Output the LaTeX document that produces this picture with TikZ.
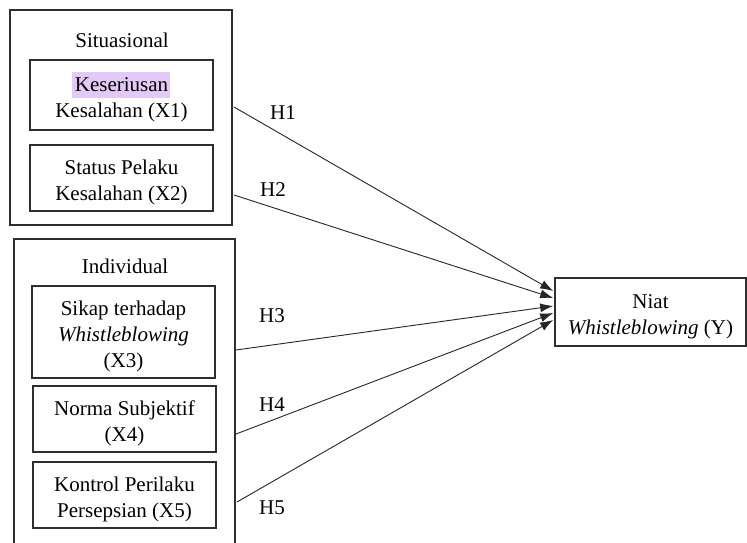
\documentclass[tikz,border=0pt]{standalone}
\usepackage{fontspec}
\setmainfont{Liberation Serif}
\usetikzlibrary{arrows.meta,calc}
\definecolor{hl}{HTML}{E2C9F7}
\definecolor{ln}{HTML}{2E2E2E}
\newcommand{\topstrut}{\rule{0pt}{23pt}}
\begin{document}
\begin{tikzpicture}[x=1pt,y=-1pt,
  every node/.style={font=\fontsize{21}{26}\selectfont, text=black},
  outerbox/.style={draw=ln, line width=1.6pt, minimum width=#1, inner sep=0pt},
  varbox/.style={draw=ln, line width=1.6pt, align=center, inner sep=0pt},
  conn/.style={draw=black!85, line width=0.9pt, -{Latex[length=13pt,width=9pt]}},
  hlabel/.style={inner sep=0pt}
]
\clip (0,0) rectangle (747,543);
\fill[white] (0,0) rectangle (747,543);
% outer groups
\node[outerbox=222pt, minimum height=215pt] (sit) at (121,117.5) {};
\node[outerbox=221pt, minimum height=330pt] (ind) at (124.5,404) {};
\node[inner sep=0pt] (tsit) at (122,40) {Situasional};
\node[inner sep=0pt] (tind) at (125,266) {Individual};
% highlight
\fill[hl] (72,72) rectangle (170,98);
% variable boxes
\node[varbox, minimum width=183pt, minimum height=70pt] (x1) at (121.5,95)
  {\topstrut Keseriusan\\Kesalahan (X1)};
\node[varbox, minimum width=183pt, minimum height=66pt] (x2) at (121.5,178)
  {\topstrut Status Pelaku\\Kesalahan (X2)};
\node[varbox, minimum width=183pt, minimum height=92pt] (x3) at (123.5,332)
  {\topstrut Sikap terhadap\\\textit{Whistleblowing}\\(X3)};
\node[varbox, minimum width=183pt, minimum height=66pt] (x4) at (124.5,419)
  {\topstrut Norma Subjektif\\(X4)};
\node[varbox, minimum width=183pt, minimum height=66pt] (x5) at (124.5,495)
  {\topstrut Kontrol Perilaku\\Persepsian (X5)};
\node[varbox, minimum width=191pt, minimum height=68pt] (y) at (650.5,312)
  {\topstrut Niat\\\textit{Whistleblowing} (Y)};
% connector start points on the group borders
\coordinate (s1) at (234,107);
\coordinate (s2) at (234,195);
\coordinate (s3) at (236,350);
\coordinate (s4) at (236,434);
\coordinate (s5) at (237,502);
\draw[conn] (s1) -- ($(y.west)+(-1,-21)$);
\draw[conn] (s2) -- ($(y.west)+(-1,-14)$);
\draw[conn] (s3) -- ($(y.west)+(-1,-6)$);
\draw[conn] (s4) -- ($(y.west)+(-1,1)$);
\draw[conn] (s5) -- ($(y.west)+(-1,8)$);
% hypothesis labels
\node[hlabel] (h1) at (283,113) {H1};
\node[hlabel] (h2) at (273,190) {H2};
\node[hlabel] (h3) at (272,316) {H3};
\node[hlabel] (h4) at (272,405) {H4};
\node[hlabel] (h5) at (272,508) {H5};
\end{tikzpicture}
\end{document}
